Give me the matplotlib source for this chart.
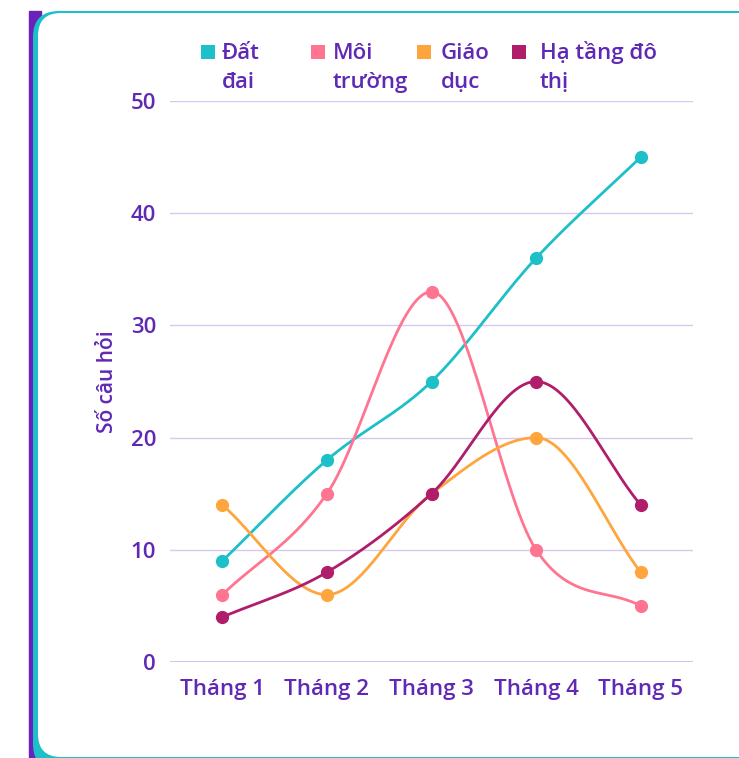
import matplotlib.pyplot as plt
import numpy as np
from matplotlib.patches import FancyBboxPatch, Rectangle
from matplotlib.transforms import IdentityTransform

months = ["Tháng 1", "Tháng 2", "Tháng 3", "Tháng 4", "Tháng 5"]
dat_dai = [9, 18, 25, 36, 45]
moi_truong = [6, 15, 33, 10, 5]
giao_duc = [14, 6, 15, 20, 8]
ha_tang = [4, 8, 15, 25, 14]
legend_labels = ["Đất\nđai", "Môi\ntrường", "Giáo\ndục", "Hạ tầng đô\nthị"]
colors = ["#1dbfc8", "#ff7591", "#ffa53d", "#b01d6b"]
yticks = [0, 10, 20, 30, 40, 50]

txt = "#6029b5"
plt.rcParams['font.family'] = ['Open Sans', 'DejaVu Sans']
plt.rcParams['font.weight'] = 'semibold'
plt.rcParams['axes.labelweight'] = 'semibold'

W, H = 739, 758


def monotone(x, y, n=60):
    # Fritsch-Carlson monotone cubic, like chart.js "monotone"
    x = np.asarray(x, float)
    y = np.asarray(y, float)
    h = np.diff(x)
    d = np.diff(y) / h
    m = np.zeros(len(x))
    m[0], m[-1] = d[0], d[-1]
    for k in range(1, len(x) - 1):
        m[k] = 0 if d[k - 1] * d[k] <= 0 else (d[k - 1] + d[k]) / 2
    for k in range(len(d)):
        if d[k] == 0:
            m[k] = m[k + 1] = 0
            continue
        a, b = m[k] / d[k], m[k + 1] / d[k]
        s = a * a + b * b
        if s > 9:
            t = 3 / np.sqrt(s)
            m[k], m[k + 1] = t * a * d[k], t * b * d[k]
    xs, ys = [], []
    for k in range(len(d)):
        t = np.linspace(0, 1, n)
        h00 = 2 * t**3 - 3 * t**2 + 1
        h10 = t**3 - 2 * t**2 + t
        h01 = -2 * t**3 + 3 * t**2
        h11 = t**3 - t**2
        xs.append(x[k] + t * h[k])
        ys.append(h00 * y[k] + h10 * h[k] * m[k] + h01 * y[k + 1] + h11 * h[k] * m[k + 1])
    return np.concatenate(xs), np.concatenate(ys)


fig = plt.figure(figsize=(W / 100, H / 100), dpi=100)
fig.patch.set_facecolor("white")

# card frame (pixels, origin bottom-left)
px = IdentityTransform()
fig.patches.append(Rectangle((29, 0), 12, H - 11, transform=px, color="#6a22b8", zorder=0))
fig.patches.append(FancyBboxPatch((33, -12), 760, H - 11 + 12, transform=px,
                                  boxstyle="round,pad=0,rounding_size=26",
                                  facecolor="#1dbfc8", edgecolor="none", zorder=1))
fig.patches.append(FancyBboxPatch((38, 1), 760, H - 13 - 1, transform=px,
                                  boxstyle="round,pad=0,rounding_size=23",
                                  facecolor="white", edgecolor="none", zorder=2))

ax = fig.add_axes([170 / W, 1 - 662 / H, 523 / W, 561 / H])
ax.set_facecolor("none")
ax.set_zorder(3)

x = np.arange(len(months))
for vals, c in zip([dat_dai, moi_truong, giao_duc, ha_tang], colors):
    sx, sy = monotone(x, vals)
    ax.plot(sx, sy, color=c, lw=2, solid_capstyle="round")
    ax.plot(x, vals, "o", color=c, ms=8.5)

ax.set_xlim(-0.5, len(months) - 0.5)
ax.set_ylim(0, 50)
ax.set_yticks(yticks)
ax.set_xticks(x)
ax.set_xticklabels(months)
ax.grid(axis="y", color="#d8c8ef", lw=1)
ax.set_axisbelow(True)
for s in ax.spines.values():
    s.set_visible(False)
ax.axhline(0, color="#d0baee", lw=2, zorder=0)
ax.tick_params(length=0, labelsize=16, labelcolor=txt, pad=10)
ax.tick_params(axis="x", pad=12)
ax.set_ylabel("Số câu hỏi", color=txt, fontsize=15, labelpad=9)

# legend drawn at the top
sq_x = [208, 318, 424, 519]
tx_x = [222, 333, 441, 540]
for sx_, tx_, lab, c in zip(sq_x, tx_x, legend_labels, colors):
    fig.patches.append(Rectangle((sx_ - 7, H - 52 - 7), 14, 14, transform=px,
                                 facecolor=c, edgecolor="none", zorder=4))
    l1, l2 = lab.split("\n")
    fig.text(tx_ / W, 1 - 59 / H, l1, color=txt, fontsize=16, va="baseline", ha="left")
    fig.text(tx_ / W, 1 - 88 / H, l2, color=txt, fontsize=16, va="baseline", ha="left")

fig.savefig("out.png", dpi=100)
